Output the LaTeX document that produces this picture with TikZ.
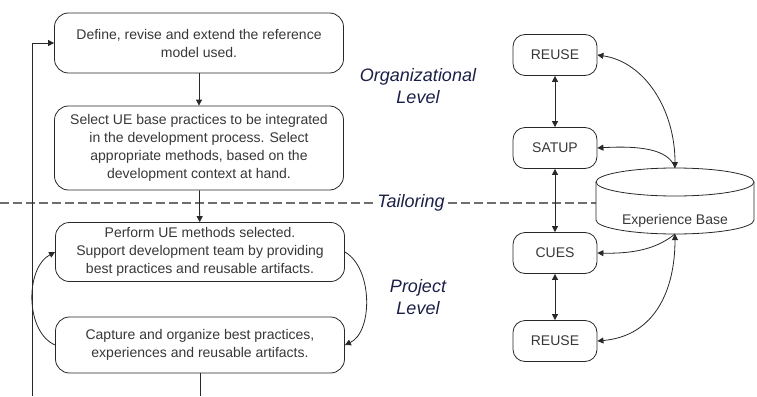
\documentclass[tikz,border=0pt]{standalone}
\usepackage{fontspec}
\setmainfont{Liberation Sans}
\usetikzlibrary{arrows.meta}

\definecolor{labelblue}{RGB}{28,32,72}
\definecolor{textgray}{RGB}{55,55,55}
\definecolor{linegray}{RGB}{40,40,40}
\definecolor{dashgray}{RGB}{110,110,110}

\begin{document}
\begin{tikzpicture}[x = 1pt, y = -1pt, > = {Triangle[length = 6pt, width = 6pt]}, line width = 0.8pt, draw = linegray,
	font = \fontsize{14}{18}\selectfont,
	taskbox/.style = {draw, rounded corners = 14pt, minimum width = 289pt, align = center, text = textgray, inner sep = 2pt},
	toolbox/.style = {draw, rounded corners = 12pt, minimum width = 84pt, minimum height = 41pt, text = textgray},
	levellabel/.style = {font = \fontsize{18}{22}\selectfont\itshape, text = labelblue, align = center},
	tailorline/.style = {dashgray, line width = 2.5pt, dash pattern = on 9pt off 4pt}]

	% Definition

	\def\T{203}		% Height of tailoring line

	\useasboundingbox (0, 0) rectangle (757, 396);

	% Tailoring line

	\node [levellabel] (tailor) at (411, \T) {Tailoring};
	\coordinate (tleft) at (0, \T);
	\coordinate (tright) at (596, \T);
	\draw [tailorline] (tleft) -- (tailor.west);
	\draw [tailorline] (tailor.east) -- (tright);

	% Process steps

	\node [taskbox, minimum height = 60pt] (define) at (199, 43) {Define, revise and extend the reference\\model used.};
	\node [taskbox, minimum height = 84pt] (select) at (199, 148) {Select UE base practices to be integrated\\in the development process. Select\\appropriate methods, based on the\\development context at hand.};
	\node [taskbox, minimum height = 59pt] (perform) at (200, 252) {Perform UE methods selected.\\Support development team by providing\\best practices and reusable artifacts.};
	\node [taskbox, minimum height = 56pt] (capture) at (200, 345) {Capture and organize best practices,\\experiences and reusable artifacts.};

	\draw [->] (define) -- (select);
	\draw [->] (select) -- (perform);

	% Feedback loop

	\coordinate (exit) at (200, 396);
	\coordinate (loop) at (32, 396);
	\draw (capture) -- (exit);
	\draw [->] (loop) |- (define.west);

	\draw [->] (capture.west) .. controls (25, 332) and (25, 268) .. (perform.west);
	\draw [->] (perform.east) .. controls (373, 268) and (373, 332) .. (capture.east);

	% Levels

	\node [levellabel] (orglevel) at (418, 86) {Organizational\\Level};
	\node [levellabel] (projlevel) at (418, 297) {Project\\Level};

	% Tools

	\node [toolbox] (reusetop) at (555, 55) {REUSE};
	\node [toolbox] (satup) at (555, 148) {SATUP};
	\node [toolbox] (cues) at (555, 253) {CUES};
	\node [toolbox] (reusebot) at (555, 341) {REUSE};

	\draw [<->] (reusetop) -- (satup);
	\draw [<->] (satup) -- (cues);
	\draw [<->] (cues) -- (reusebot);

	% Experience base

	\draw (596, 182) -- (596, 220) arc [start angle = 180, end angle = 0, x radius = 79, y radius = 14] -- (754, 182);
	\draw (675, 182) ellipse [x radius = 79, y radius = 14];
	\node [text = textgray] (eb) at (675, 221) {Experience Base};
	\coordinate (ebtop) at (675, 168);
	\coordinate (ebbot) at (675, 234);

	\draw [<->] (reusetop.east) .. controls (645, 62) and (675, 110) .. (ebtop);
	\draw [<-] (satup.east) .. controls (648, 145) and (670, 152) .. (ebtop);
	\draw [<-] (cues.east) .. controls (640, 254) and (660, 246) .. (ebbot);
	\draw [<->] (reusebot.east) .. controls (655, 336) and (675, 290) .. (ebbot);

\end{tikzpicture}
\end{document}
